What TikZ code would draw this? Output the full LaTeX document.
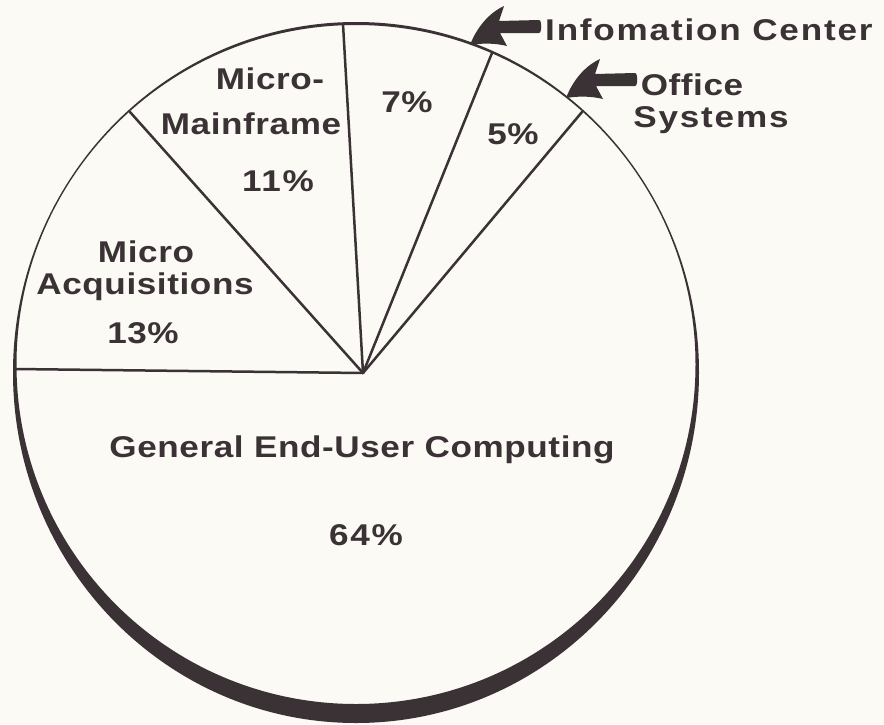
\documentclass[tikz,border=0pt]{standalone}
\usepackage{fontspec}
\newfontfamily\lbl{Liberation Sans}[FakeStretch=1.17, LetterSpace=2]
\definecolor{ink}{HTML}{3A3234}
\definecolor{paper}{HTML}{FBFAF5}
\tikzset{
  lab/.style={font=\lbl\bfseries\fontsize{30}{34}\selectfont, text=ink, inner sep=0pt},
  widelab/.style={lab, font=\lbl\bfseries\fontsize{30}{34}\selectfont\addfontfeatures{LetterSpace=6}},
  slice/.style={draw=ink, line width=2.5pt, line join=round, line cap=round},
  pointer/.pic={
    \fill[ink] (470,45) .. controls (477,27) and (489,13) .. (504,6)
      -- (499,21) -- (539,20) .. controls (542,20) and (542,33) .. (539,33)
      -- (500,33) -- (507,46) .. controls (495,43) and (482,43) .. cycle;
  }
}
\begin{document}
\begin{tikzpicture}[x=1pt, y=-1pt]
  \fill[paper] (0,0) rectangle (884,724);
  \useasboundingbox (0,0) rectangle (884,724);

  % slice boundaries
  \coordinate (V) at (363,373);
  \coordinate (r1) at (15.5,369);
  \coordinate (r2) at (130,112);
  \coordinate (r3) at (343,24);
  \coordinate (r4) at (492,53);
  \coordinate (r5) at (582,112);
  \draw[slice] (r1) -- (V);
  \draw[slice] (r2) -- (V);
  \draw[slice] (r3) -- (V);
  \draw[slice] (r4) -- (V);
  \draw[slice] (r5) -- (V);

  % rim of the pie, heavier along the bottom
  \fill[ink, even odd rule]
    (356,372.5) ellipse [x radius=343pt, y radius=350.5pt]
    (356,364.5) circle [radius=339.5pt];

  % pointers to the two small slices
  \pic at (0,0) {pointer};
  \pic at (96,53) {pointer};

  % labels
  \node[lab] (acq1) at (146,252) {Micro};
  \node[lab] (acq2) at (145,287) {Acquisitions};
  \node[lab] (acq3) at (143,333) {13\%};
  \node[lab] (mm1) at (270,79) {Micro-};
  \node[lab] (mm2) at (251,124) {Mainframe};
  \node[widelab] (mm3) at (278,181) {11\%};
  \node[lab] (ic) at (407,102) {7\%};
  \node[lab] (os) at (513,134) {5\%};
  \node[widelab, anchor=west] (icname) at (545,30) {Infomation Center};
  \node[lab] (os1) at (692,85) {Office};
  \node[widelab] (os2) at (711,120) {Systems};
  \node[lab] (gen1) at (362,450) {General End-User Computing};
  \node[widelab] (gen2) at (366,535) {64\%};
\end{tikzpicture}
\end{document}
